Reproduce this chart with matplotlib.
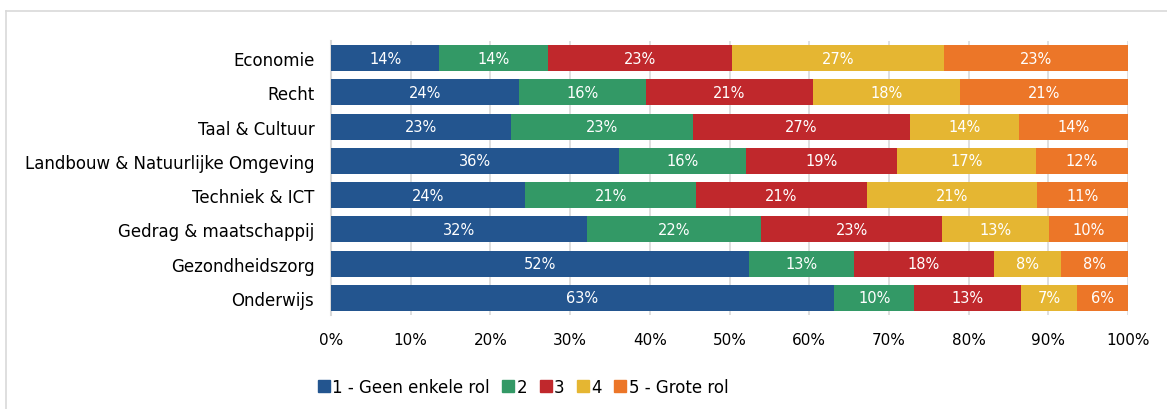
import numpy as np
import matplotlib.pyplot as plt
from matplotlib.lines import Line2D

# categories, top to bottom as in the chart
categories = ['Economie', 'Recht', 'Taal & Cultuur',
              'Landbouw & Natuurlijke Omgeving', 'Techniek & ICT',
              'Gedrag & maatschappij', 'Gezondheidszorg', 'Onderwijs']

# share (%) per answer, one list per answer level
rol_1 = [13.6, 23.6, 22.6, 36.1, 24.4, 32.1, 52.4, 63.1]
rol_2 = [13.6, 15.9, 22.8, 16.0, 21.4, 21.9, 13.2, 10.1]
rol_3 = [23.1, 21.0, 27.2, 18.9, 21.4, 22.7, 17.6, 13.4]
rol_4 = [26.6, 18.4, 13.7, 17.4, 21.4, 13.4, 8.4, 7.0]
rol_5 = [23.1, 21.1, 13.7, 11.6, 11.4, 9.9, 8.4, 6.4]

series_names = ['1 - Geen enkele rol', '2', '3', '4', '5 - Grote rol']
colors = ['#23558F', '#339966', '#C0282C', '#E5B632', '#EC7628']

plt.rcParams['font.family'] = ['DejaVu Sans']

fig = plt.figure(figsize=(11.67, 4.10), dpi=100)
ax = fig.add_axes([331 / 1167, 1 - 316 / 410, 797 / 1167, 274 / 410])

y = np.arange(len(categories))
left = np.zeros(len(categories))
for vals, name, col in zip([rol_1, rol_2, rol_3, rol_4, rol_5], series_names, colors):
    vals = np.array(vals)
    ax.barh(y, vals, left=left, height=0.76, color=col, label=name, zorder=3)
    for yi, l, v in zip(y, left, vals):
        ax.text(l + v / 2, yi, f'{round(v)}%', ha='center', va='center',
                color='white', fontsize=10.5, zorder=4)
    left += vals

ax.set_xlim(0, 100)
ax.set_ylim(len(categories) - 0.5, -0.5)
ax.set_xticks(np.arange(0, 101, 10))
ax.set_xticklabels([f'{t}%' for t in range(0, 101, 10)], fontsize=11)
ax.set_yticks(y)
ax.set_yticklabels(categories, fontsize=12)
ax.tick_params(axis='both', length=0, pad=12)
ax.tick_params(axis='y', pad=12)
ax.grid(axis='x', color='#D9D9D9', linewidth=1.2, zorder=0)
for s in ['top', 'right', 'bottom']:
    ax.spines[s].set_visible(False)
ax.spines['left'].set_color('#D9D9D9')
ax.spines['left'].set_linewidth(1.5)

handles = [Line2D([], [], marker='s', linestyle='none', markersize=8,
                  markerfacecolor=c, markeredgecolor=c) for c in colors]
fig.legend(handles, series_names, loc='center', ncol=5, frameon=False,
           bbox_to_anchor=(522 / 1167, 1 - 388 / 410), fontsize=12,
           handletextpad=0.0, columnspacing=0.6, handlelength=1.0)

# light frame around the chart area
fig.add_artist(Line2D([6 / 1167, 1], [1 - 12 / 410] * 2, color='#D9D9D9', lw=1.2))
fig.add_artist(Line2D([6 / 1167] * 2, [0, 1 - 12 / 410], color='#D9D9D9', lw=1.2))

fig.savefig('out.png', dpi=100)
